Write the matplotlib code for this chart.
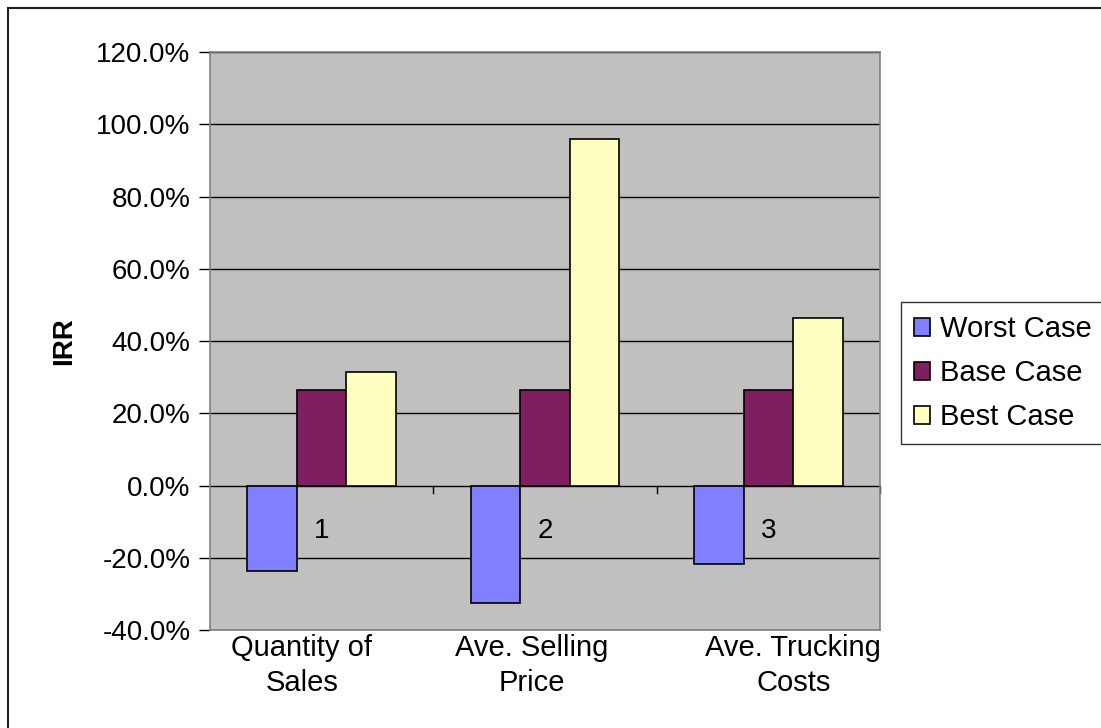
import matplotlib.pyplot as plt
from matplotlib.patches import Rectangle
from matplotlib.transforms import ScaledTranslation
import numpy as np

plt.rcParams['font.family'] = ['Liberation Sans', 'DejaVu Sans']

# Données (IRR en %)
categories = ['Quantity of\nSales', 'Ave. Selling\nPrice', 'Ave. Trucking\nCosts']
numeros = ['1', '2', '3']
series = ['Worst Case', 'Base Case', 'Best Case']
worst = [-23.7, -32.6, -21.6]
base = [26.5, 26.5, 26.5]
best = [31.3, 96.0, 46.4]
couleurs = ['#8080FF', '#7F1F5F', '#FFFFC0']
yticks = [-40, -20, 0, 20, 40, 60, 80, 100, 120]

fig = plt.figure(figsize=(11.01, 7.28), dpi=100)
fig.patch.set_facecolor('white')

# Cadre extérieur
fig.patches.append(Rectangle((8 / 1101, -0.01), 1.0, 1 - 8 / 728 + 0.01,
                             transform=fig.transFigure, fill=False,
                             edgecolor='#202020', linewidth=1.5))

ax = fig.add_axes([210 / 1101, 1 - 630 / 728, 670 / 1101, 578 / 728])
ax.set_facecolor('#C0C0C0')

x = np.arange(len(categories))
w = 1 / 4.5
for k, (vals, nom) in enumerate(zip([worst, base, best], series)):
    ax.bar(x + (k - 1) * w, vals, width=w, color=couleurs[k],
           edgecolor='black', linewidth=1.2, label=nom, zorder=3)

ax.set_ylim(-40, 120)
ax.set_xlim(-0.5, len(categories) - 0.5)
ax.set_yticks(yticks)
ax.set_yticklabels([f'{v:.1f}%' for v in yticks], fontsize=20)
ax.tick_params(axis='y', length=8, width=1, color='black', pad=6)
ax.yaxis.grid(True, color='black', linewidth=1)
ax.set_axisbelow(True)

ax.set_xticks(x)
ax.set_xticklabels(categories, fontsize=21, linespacing=1.3)
ax.tick_params(axis='x', length=0, pad=3)
# décalages des étiquettes comme dans Excel
for lab, dx in zip(ax.get_xticklabels(), [-20, -13, 25]):
    lab.set_transform(lab.get_transform() + ScaledTranslation(dx / 100, 0, fig.dpi_scale_trans))

for s in ax.spines.values():
    s.set_color('#808080')
    s.set_linewidth(1.2)

# Petites graduations sur la ligne zéro
for b in x[:-1] + 0.5:
    ax.plot([b, b], [0, -2], color='black', linewidth=1, zorder=2)
ax.plot([len(categories) - 0.5] * 2, [0, -2], color='black', linewidth=1,
        zorder=2, clip_on=False)

for i, n in enumerate(numeros):
    ax.text(x[i], -12.5, n, fontsize=20, ha='center', va='center')

ax.set_ylabel('IRR', fontsize=20, fontweight='bold', labelpad=14)

leg = fig.legend(loc='upper left', bbox_to_anchor=(901 / 1101, 1 - 302 / 728),
                 fontsize=21, frameon=True, fancybox=False, edgecolor='black',
                 handlelength=0.55, handleheight=0.55, handletextpad=0.35,
                 borderpad=0.45, labelspacing=0.55, borderaxespad=0)
leg.get_frame().set_linewidth(1)

plt.savefig('out.png', dpi=100, facecolor='white')
